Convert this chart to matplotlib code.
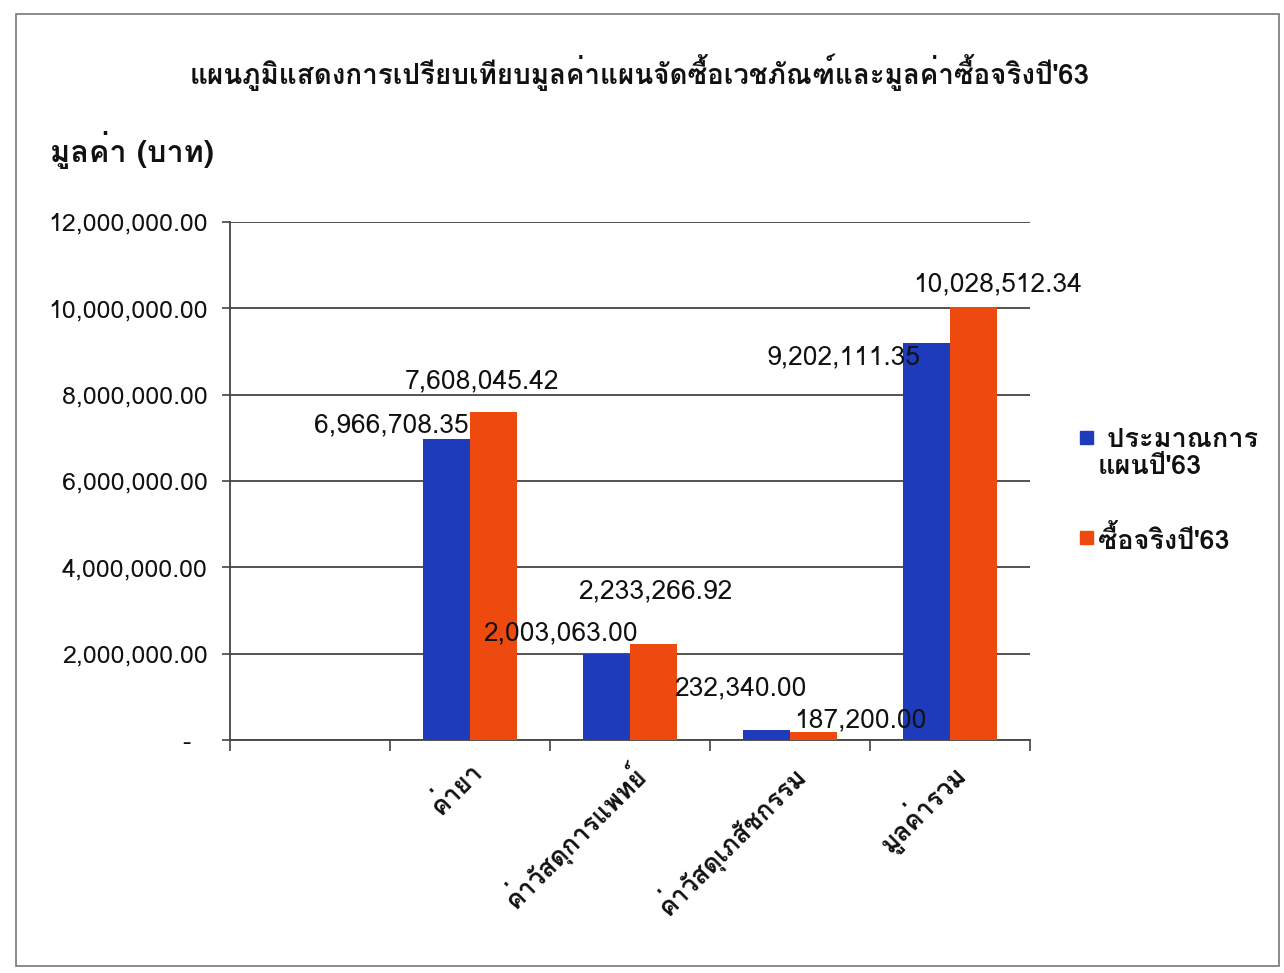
import matplotlib
matplotlib.use("Agg")
import matplotlib.pyplot as plt
from matplotlib import font_manager as fm
from matplotlib.ft2font import FT2Font
from matplotlib.patches import Rectangle
import matplotlib.transforms as mtransforms
import numpy as np

# ---------------- data ----------------
title = "แผนภูมิแสดงการเปรียบเทียบมูลค่าแผนจัดซื้อเวชภัณฑ์และมูลค่าซื้อจริงปี'63"
ylabel = "มูลค่า (บาท)"
categories = ["", "ค่ายา", "ค่าวัสดุการแพทย์", "ค่าวัสดุเภสัชกรรม", "มูลค่ารวม"]
plan_values = [None, 6966708.35, 2003063.00, 232340.00, 9202111.35]
actual_values = [None, 7608045.42, 2233266.92, 187200.00, 10028512.34]
series_names = [" ประมาณการ\nแผนปี'63", "ซื้อจริงปี'63"]
yticks = [0, 2000000, 4000000, 6000000, 8000000, 10000000, 12000000]

# label offsets (pixels) relative to bar top-centre, manually placed as in the source
plan_label_offsets = [None, (-55, 14), (-46, 20), (-26, 42), (-83, -14)]
actual_label_offsets = [None, (-12, 30), (2, 52), (47, 12), (24, 23)]

# ---------------- font: find one with Thai glyphs ----------------
thai_family = None
seen = set()
for f in fm.fontManager.ttflist:
    if f.fname in seen:
        continue
    seen.add(f.fname)
    try:
        cmap = FT2Font(f.fname).get_charmap()
    except Exception:
        continue
    if 0x0E01 in cmap and 0x0E39 in cmap:
        thai_family = f.name
        break
families = ([thai_family] if thai_family else []) + ["DejaVu Sans"]
plt.rcParams["font.family"] = families

BLUE = "#1E3BBC"
ORANGE = "#EE4A10"
GRID = "#444444"
TXT = "#111111"

W, H = 1284, 973
fig = plt.figure(figsize=(W / 100, H / 100), dpi=100)
fig.patch.set_facecolor("white")

# outer border
fig.patches.append(Rectangle((16 / W, 1 - 966 / H), (1279 - 16) / W, (966 - 14) / H,
                             transform=fig.transFigure, fill=False,
                             edgecolor="#777777", linewidth=1.2))

ax = fig.add_axes([230 / W, 1 - 740 / H, 800 / W, 518 / H])
x = np.arange(len(categories))
bw = 0.295

px = [v if v is not None else 0 for v in plan_values]
ac = [v if v is not None else 0 for v in actual_values]
ax.bar(x - bw / 2, px, width=bw, color=BLUE, zorder=3)
ax.bar(x + bw / 2, ac, width=bw, color=ORANGE, zorder=3)

ax.set_xlim(-0.5, len(categories) - 0.5)
ax.set_ylim(0, 12000000)
ax.set_yticks(yticks)
ax.set_yticklabels(["-  "] + [f"{v:,.2f}" for v in yticks[1:]])
ax.yaxis.grid(True, color=GRID, linewidth=1.3, zorder=0)
ax.set_axisbelow(True)

for s in ["top", "right"]:
    ax.spines[s].set_visible(False)
for s in ["left", "bottom"]:
    ax.spines[s].set_color(GRID)
    ax.spines[s].set_linewidth(1.3)

ax.tick_params(axis="y", length=6, width=1.2, color=GRID, labelsize=18, pad=10,
               labelcolor=TXT)
ax.set_xticks(x)
ax.set_xticks(np.arange(-0.5, len(categories), 1.0), minor=True)
ax.tick_params(axis="x", which="major", length=0)
ax.tick_params(axis="x", which="minor", length=8, width=1.2, color=GRID)
ax.set_xticklabels(categories, rotation=45, ha="right", rotation_mode="anchor",
                   fontsize=18.5, fontweight="bold", color=TXT)
offset = mtransforms.ScaledTranslation(-2 / 100, -12 / 100, fig.dpi_scale_trans)
for lab in ax.get_xticklabels():
    lab.set_transform(lab.get_transform() + offset)

# data labels
for i in range(len(categories)):
    if plan_values[i] is not None:
        dx, dy = plan_label_offsets[i]
        ax.annotate(f"{plan_values[i]:,.2f}", (x[i] - bw / 2, plan_values[i]),
                    xytext=(dx * 0.72, dy * 0.72), textcoords="offset points",
                    ha="center", va="center", fontsize=19, color=TXT, zorder=5)
    if actual_values[i] is not None:
        dx, dy = actual_label_offsets[i]
        ax.annotate(f"{actual_values[i]:,.2f}", (x[i] + bw / 2, actual_values[i]),
                    xytext=(dx * 0.72, dy * 0.72), textcoords="offset points",
                    ha="center", va="center", fontsize=19, color=TXT, zorder=5)

fig.text(640 / W, 1 - 72 / H, title, ha="center", va="center",
         fontsize=20, fontweight="bold", color=TXT)
fig.text(50 / W, 1 - 150 / H, ylabel, ha="left", va="center",
         fontsize=22, fontweight="bold", color=TXT)

# legend (drawn manually, first line aligned with the marker as in the source)
legend_rows = [437, 537]
for name, col, yy in zip(series_names, [BLUE, ORANGE], legend_rows):
    fig.patches.append(Rectangle((1080 / W, 1 - (yy + 7) / H), 13 / W, 13 / H,
                                 transform=fig.transFigure, facecolor=col,
                                 edgecolor=col))
    for k, line in enumerate(name.split("\n")):
        fig.text(1098 / W, 1 - (yy + 3 + 27 * k) / H, line, ha="left", va="center",
                 fontsize=19.5, fontweight="bold", color=TXT)

fig.savefig("out.png", dpi=100, facecolor="white")
